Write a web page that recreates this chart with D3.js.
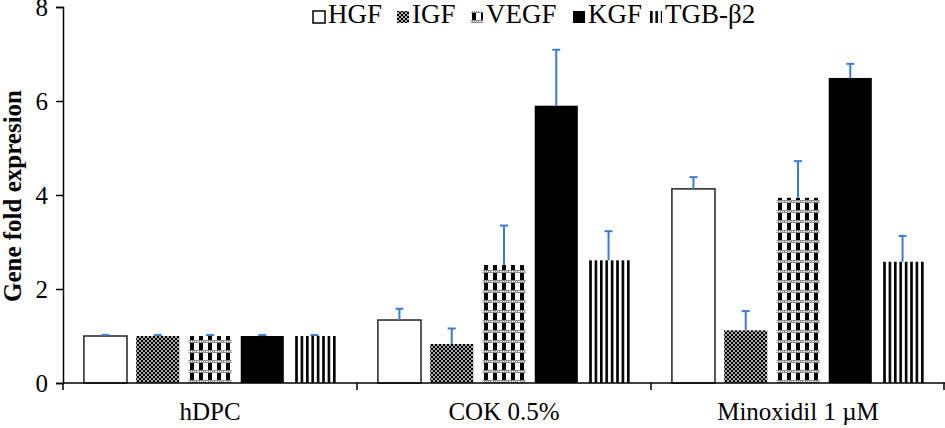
<!DOCTYPE html>
<html>
<head>
<meta charset="utf-8">
<script src="https://cdn.jsdelivr.net/npm/d3@7"></script>
<style>
  body { margin: 0; background: #fff; }
  text { font-family: "Liberation Serif", "Times New Roman", serif; }
</style>
</head>
<body>
<div id="chart"></div>
<script>
// data
var groups = ["hDPC", "COK 0.5%", "Minoxidil 1 \u00B5M"];
var series = ["HGF", "IGF", "VEGF", "KGF", "TGB-\u03B22"];
var means = [
    [1.0, 1.0, 1.0, 1.0, 1.0],
    [1.34, 0.83, 2.51, 5.9, 2.61],
    [4.13, 1.12, 3.94, 6.49, 2.58]
];
var errors = [
    [0.02, 0.02, 0.02, 0.02, 0.02],
    [0.24, 0.33, 0.84, 1.19, 0.62],
    [0.25, 0.41, 0.78, 0.3, 0.55]
];
var yTicks = [0, 2, 4, 6, 8];

function init() {
    var w = 945, h = 428;
    var left = 63, right = 945, top = 7, bottom = 383;

    var svg = d3.select("#chart").append("svg")
        .attr("width", w)
        .attr("height", h);

    var defs = svg.append("defs");

    // IGF: black with small white dots
    var pIgf = defs.append("pattern").attr("id", "p-igf")
        .attr("patternUnits", "userSpaceOnUse").attr("width", 4).attr("height", 4);
    pIgf.append("rect").attr("width", 4).attr("height", 4).attr("fill", "#000");
    pIgf.append("circle").attr("cx", 1).attr("cy", 1).attr("r", 0.9).attr("fill", "#fff");
    pIgf.append("circle").attr("cx", 3).attr("cy", 3).attr("r", 0.9).attr("fill", "#fff");

    // VEGF: black/white cells with grey dotted rows between them
    var pVegf = defs.append("pattern").attr("id", "p-vegf")
        .attr("patternUnits", "userSpaceOnUse").attr("width", 9).attr("height", 10);
    pVegf.append("rect").attr("width", 9).attr("height", 10).attr("fill", "#fff");
    pVegf.append("rect").attr("x", 1).attr("y", 3).attr("width", 4).attr("height", 7).attr("fill", "#000");
    pVegf.append("rect").attr("y", 0).attr("width", 9).attr("height", 3).attr("fill", "#8c8c8c");
    [0, 2, 4, 6, 8].forEach(function(x) {
        pVegf.append("rect").attr("x", x).attr("y", 1).attr("width", 1).attr("height", 1).attr("fill", "#fff");
    });

    // TGB: vertical stripes
    var pTgb = defs.append("pattern").attr("id", "p-tgb")
        .attr("patternUnits", "userSpaceOnUse").attr("width", 5.4).attr("height", 10);
    pTgb.append("rect").attr("width", 5.4).attr("height", 10).attr("fill", "#fff");
    pTgb.append("rect").attr("x", 0).attr("width", 2.6).attr("height", 10).attr("fill", "#000");

    var fills = ["#fff", "url(#p-igf)", "url(#p-vegf)", "#000", "url(#p-tgb)"];

    var x0 = d3.scaleBand().domain(groups).range([left, right]).padding(0);
    var x1 = d3.scaleBand().domain(series).range([0, x0.bandwidth()])
        .paddingInner(0.176).paddingOuter(0.4);
    var y = d3.scaleLinear().domain([0, 8]).range([bottom, top]);

    // bars
    var g = svg.selectAll("g.group")
        .data(groups)
        .enter().append("g")
        .attr("class", "group")
        .attr("transform", function(d) { return "translate(" + x0(d) + ",0)"; });

    g.selectAll("rect.bar")
        .data(function(d, gi) {
            return series.map(function(s, si) {
                return { s: s, si: si, v: means[gi][si], e: errors[gi][si] };
            });
        })
        .enter().append("rect")
        .attr("class", "bar")
        .attr("x", function(d) { return x1(d.s); })
        .attr("y", function(d) { return y(d.v); })
        .attr("width", x1.bandwidth())
        .attr("height", function(d) { return y(0) - y(d.v); })
        .attr("fill", function(d) { return fills[d.si]; })
        .attr("stroke", function(d) { return d.si === 0 ? "#222" : "none"; })
        .attr("stroke-width", 1.5);

    // error bars (upper only)
    var eb = g.selectAll("g.err")
        .data(function(d, gi) {
            return series.map(function(s, si) {
                return { s: s, v: means[gi][si], e: errors[gi][si] };
            });
        })
        .enter().append("g").attr("class", "err");
    eb.append("line")
        .attr("x1", function(d) { return x1(d.s) + x1.bandwidth() / 2; })
        .attr("x2", function(d) { return x1(d.s) + x1.bandwidth() / 2; })
        .attr("y1", function(d) { return y(d.v); })
        .attr("y2", function(d) { return y(d.v + d.e); })
        .attr("stroke", "#3a7bd5").attr("stroke-width", 2);
    eb.append("line")
        .attr("x1", function(d) { return x1(d.s) + x1.bandwidth() / 2 - 4; })
        .attr("x2", function(d) { return x1(d.s) + x1.bandwidth() / 2 + 4; })
        .attr("y1", function(d) { return y(d.v + d.e); })
        .attr("y2", function(d) { return y(d.v + d.e); })
        .attr("stroke", "#3a7bd5").attr("stroke-width", 2);

    // y axis
    var yAxis = d3.axisLeft(y).tickValues(yTicks).tickSize(7).tickPadding(8);
    var ya = svg.append("g")
        .attr("transform", "translate(" + left + ",0)")
        .call(yAxis);
    ya.selectAll("text").attr("font-size", 25).attr("fill", "#000")
        .style("font-family", "Liberation Serif");
    ya.selectAll("line, path").attr("stroke", "#000").attr("stroke-width", 1.5);

    // x axis with ticks at group boundaries
    svg.append("line")
        .attr("x1", left).attr("x2", right)
        .attr("y1", y(0)).attr("y2", y(0))
        .attr("stroke", "#000").attr("stroke-width", 1.5);
    var bounds = groups.map(function(d) { return x0(d); }).concat([right - 1]);
    svg.selectAll("line.xtick")
        .data(bounds)
        .enter().append("line")
        .attr("class", "xtick")
        .attr("x1", function(d) { return d; }).attr("x2", function(d) { return d; })
        .attr("y1", y(0)).attr("y2", y(0) + 7)
        .attr("stroke", "#000").attr("stroke-width", 1.5);
    svg.selectAll("text.xlab")
        .data(groups)
        .enter().append("text")
        .attr("class", "xlab")
        .attr("x", function(d) { return x0(d) + x0.bandwidth() / 2; })
        .attr("y", 420)
        .attr("text-anchor", "middle")
        .attr("font-size", 25)
        .text(function(d) { return d; });

    // y title
    svg.append("text")
        .attr("transform", "translate(21,196) rotate(-90)")
        .attr("text-anchor", "middle")
        .attr("font-size", 25)
        .attr("font-weight", "bold")
        .text("Gene fold expresion");

    // legend
    var legX = [313, 397, 471, 573, 650];
    var leg = svg.selectAll("g.leg")
        .data(series)
        .enter().append("g")
        .attr("class", "leg")
        .attr("transform", function(d, i) { return "translate(" + legX[i] + ",0)"; });
    leg.append("rect")
        .attr("x", 0).attr("y", 11).attr("width", 12).attr("height", 12)
        .attr("fill", function(d, i) { return fills[i]; })
        .attr("stroke", function(d, i) { return i === 0 ? "#000" : "none"; })
        .attr("stroke-width", 1.5);
    leg.append("text")
        .attr("x", 15).attr("y", 23)
        .attr("font-size", 27)
        .text(function(d) { return d; });
}

window.onload = init;
</script>
</body>
</html>
